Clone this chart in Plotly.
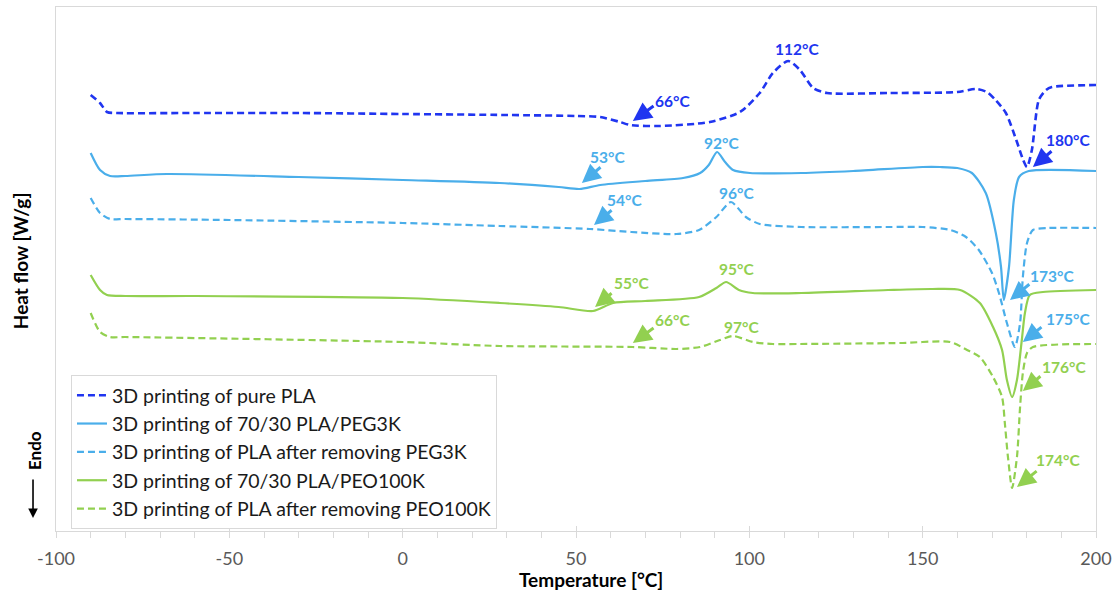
import plotly.graph_objects as go

# ---------------- data (temperature in °C, heat flow in W/g, curves offset) ----------------
names = [
    "3D printing of pure PLA",
    "3D printing of 70/30 PLA/PEG3K",
    "3D printing of PLA after removing PEG3K",
    "3D printing of 70/30 PLA/PEO100K",
    "3D printing of PLA after removing PEO100K",
]

T_pla = [-90, -87.3, -85.3, -82.4, -60, -30, 0, 30, 50, 57, 62.7, 65.6, 74, 88.6, 97.3, 103, 106.8,
         111.2, 114.6, 118.4, 122.4, 140, 160, 165.4, 168.5, 171, 174, 177, 179, 180.1, 181.5, 183.5,
         185.6, 187.3, 200]
H_pla = [4.36, 4.28, 4.19, 4.18, 4.18, 4.18, 4.17, 4.16, 4.15, 4.14, 4.09, 4.06, 4.05, 4.09, 4.19, 4.38,
         4.58, 4.70, 4.61, 4.43, 4.38, 4.38, 4.39, 4.42, 4.39, 4.31, 4.18, 3.91, 3.71, 3.64, 3.81, 4.31,
         4.41, 4.44, 4.46]

T_peg = [-90, -87.3, -84.4, -80, -68, -30, 0, 28, 45, 51, 57, 70, 80.9, 85.8, 88.3, 90.7, 93, 95.3,
         100.2, 115, 130, 150, 155, 160, 164.2, 168.2, 171.1, 172.6, 173.4, 174.9, 176.3, 177.8, 180.6, 200]
H_peg = [3.78, 3.61, 3.55, 3.55, 3.57, 3.54, 3.51, 3.48, 3.44, 3.42, 3.46, 3.50, 3.53, 3.58, 3.66, 3.79,
         3.69, 3.61, 3.58, 3.58, 3.60, 3.64, 3.64, 3.63, 3.58, 3.38, 2.98, 2.64, 2.31, 2.64, 3.31, 3.54,
         3.60, 3.60]

T_rpeg = [-90, -87.3, -84.4, -80, -50, 0, 28, 54, 66, 79, 85.5, 90.5, 94.7, 99, 103, 115, 140, 150, 158,
          162.5, 166.2, 170, 172, 174.3, 176.6, 178.1, 178.9, 180.1, 181.8, 186.4, 200]
H_rpeg = [3.33, 3.18, 3.12, 3.12, 3.11, 3.08, 3.05, 3.02, 2.99, 2.97, 3.01, 3.14, 3.29, 3.14, 3.07, 3.04,
          3.04, 3.04, 3.01, 2.94, 2.81, 2.58, 2.38, 2.08, 1.84, 2.08, 2.54, 2.88, 3.01, 3.03, 3.03]

T_peo = [-90, -87.3, -85.3, -80, -60, 0, 28, 45, 54.9, 60.7, 70, 85.5, 90.5, 93.3, 97, 101, 115, 140,
         152.7, 160.8, 166.5, 170.3, 172.9, 174.3, 175.8, 177.2, 178.6, 179.5, 180.9, 184.7, 200]
H_peo = [2.56, 2.41, 2.36, 2.35, 2.35, 2.33, 2.28, 2.24, 2.20, 2.28, 2.30, 2.34, 2.43, 2.49, 2.41, 2.38,
         2.38, 2.41, 2.42, 2.41, 2.28, 2.04, 1.81, 1.51, 1.34, 1.51, 1.91, 2.18, 2.36, 2.39, 2.41]

T_rpeo = [-90, -87.3, -84.4, -80, 0, 28, 66.4, 79.1, 85.8, 91.5, 95.3, 101, 106.8, 114.6, 143.5, 157.9,
          162.8, 166.5, 170.3, 172.9, 173.7, 174.6, 175.8, 177.2, 178.1, 178.9, 180.1, 181.8, 200]
H_rpeo = [2.18, 1.99, 1.94, 1.94, 1.89, 1.85, 1.84, 1.82, 1.84, 1.91, 1.95, 1.89, 1.87, 1.87, 1.88, 1.89,
          1.81, 1.74, 1.54, 1.34, 1.08, 0.74, 0.43, 0.74, 1.24, 1.58, 1.78, 1.84, 1.87]

x_ticks = [-100, -50, 0, 50, 100, 150, 200]
x_tick_text = ["-100", "-50", "0", "50", "100", "150", "200"]

# peak labels: (text, text_T, text_H, arrow tail T, tail H, head T, head H, series index)
labels = [
    ("112°C", 113.7, 4.82, None, None, None, None, 0),
    ("66°C", 77.7, 4.30, 72.8, 4.26, 66.4, 4.10, 0),
    ("180°C", 191.9, 3.91, 187.6, 3.81, 181.8, 3.64, 0),
    ("53°C", 59.2, 3.74, 57.5, 3.65, 51.7, 3.48, 1),
    ("92°C", 92.1, 3.88, None, None, None, None, 1),
    ("54°C", 64.1, 3.31, 60.7, 3.22, 55.2, 3.06, 2),
    ("96°C", 96.4, 3.38, None, None, None, None, 2),
    ("55°C", 65.9, 2.48, 60.7, 2.39, 55.5, 2.24, 3),
    ("95°C", 96.4, 2.62, None, None, None, None, 3),
    ("66°C", 77.7, 2.11, 72.8, 2.04, 66.4, 1.88, 4),
    ("97°C", 97.6, 2.04, None, None, None, None, 4),
    ("173°C", 187.3, 2.55, 181.2, 2.48, 175.2, 2.31, 1),
    ("175°C", 191.9, 2.12, 184.7, 2.05, 178.9, 1.89, 2),
    ("176°C", 190.8, 1.64, 184.4, 1.56, 178.9, 1.40, 3),
    ("174°C", 189.0, 0.71, 183.3, 0.61, 177.2, 0.44, 4),
]

# ---------------- styles ----------------
DARK_BLUE = "#2035F0"
LIGHT_BLUE = "#4AAEEA"
GREEN = "#92D050"
colors = [DARK_BLUE, LIGHT_BLUE, LIGHT_BLUE, GREEN, GREEN]
dashes = ["7px,4px", "solid", "7px,4px", "solid", "7px,4px"]
widths = [2.6, 2.2, 2.2, 2.2, 2.2]
FONT = "Lato, 'Open Sans', sans-serif"

series = [(T_pla, H_pla), (T_peg, H_peg), (T_rpeg, H_rpeg), (T_peo, H_peo), (T_rpeo, H_rpeo)]

fig = go.Figure()
for (tx, hy), nm, c, d, w in zip(series, names, colors, dashes, widths):
    fig.add_trace(go.Scatter(
        x=tx, y=hy, name=nm, mode="lines",
        line=dict(color=c, dash=d, width=w, shape="spline", smoothing=0.7),
    ))

# invisible trace on overlay axis for inner half of major ticks
fig.add_trace(go.Scatter(x=[-100, 200], y=[None, None], xaxis="x2", showlegend=False,
                         hoverinfo="skip"))

annotations = []
for (txt, tT, tH, aT, aH, hT, hH, si) in labels:
    col = colors[si]
    annotations.append(dict(
        x=tT, y=tH, xref="x", yref="y", text=txt, showarrow=False,
        font=dict(family=FONT, size=15.5, color=col, weight="bold"),
        xanchor="center", yanchor="middle",
    ))
    if aT is not None:
        annotations.append(dict(
            x=hT, y=hH, xref="x", yref="y", ax=aT, ay=aH, axref="x", ayref="y",
            text="", showarrow=True, arrowhead=2, arrowsize=1.25, arrowwidth=3,
            arrowcolor=col, standoff=0, startstandoff=0,
        ))

# axis titles and Endo marker
annotations.append(dict(x=0.5144, y=-0.092, xref="paper", yref="paper", text="<b>Temperature [°C]</b>",
                        showarrow=False, font=dict(family=FONT, size=19, color="#000000"),
                        xanchor="center", yanchor="middle"))
annotations.append(dict(x=-0.0346, y=0.515, xref="paper", yref="paper", text="<b>Heat flow [W/g]</b>",
                        showarrow=False, textangle=-90, font=dict(family=FONT, size=19, color="#000000"),
                        xanchor="center", yanchor="middle"))
annotations.append(dict(x=-0.0202, y=0.1546, xref="paper", yref="paper", text="<b>Endo</b>",
                        showarrow=False, textangle=-90, font=dict(family=FONT, size=17, color="#000000"),
                        xanchor="center", yanchor="middle"))
annotations.append(dict(x=-0.0221, y=0.0248, xref="paper", yref="paper", text="",
                        showarrow=True, ax=0, ay=-40, arrowhead=2, arrowsize=1.2, arrowwidth=1.6,
                        arrowcolor="#000000", standoff=0))

fig.update_layout(
    width=1118, height=590,
    margin=dict(l=56, r=22, t=7, b=59),
    paper_bgcolor="white", plot_bgcolor="white",
    font=dict(family=FONT, color="#000000"),
    showlegend=True,
    legend=dict(
        x=0.0144, y=0.2977, xanchor="left", yanchor="top",
        bgcolor="white", bordercolor="#D9D9D9", borderwidth=1,
        font=dict(family=FONT, size=19.5, color="#1A1A1A"),
        itemwidth=30, tracegroupgap=0,
    ),
    xaxis=dict(
        range=[-100, 200], tickvals=x_ticks, ticktext=x_tick_text, showgrid=False, zeroline=False,
        showline=True, linecolor="#D9D9D9", linewidth=1.3, mirror=True,
        ticks="outside", ticklen=6, tickcolor="#D9D9D9", tickwidth=1,
        minor=dict(dtick=10, ticks="outside", ticklen=6, tickcolor="#D9D9D9", showgrid=False),
        tickfont=dict(family=FONT, size=18, color="#595959"),
        ticklabelstandoff=5,
    ),
    xaxis2=dict(
        range=[-100, 200], overlaying="x", anchor="y", side="bottom", tickvals=x_ticks,
        showticklabels=False, ticks="inside", ticklen=5, tickcolor="#D9D9D9", showgrid=False,
        zeroline=False, showline=False,
    ),
    yaxis=dict(
        range=[0, 5.24], showticklabels=False, ticks="", showgrid=False, zeroline=False,
        showline=True, linecolor="#D9D9D9", linewidth=1.3, mirror=True,
    ),
    annotations=annotations,
)

fig.write_html("out.html")
